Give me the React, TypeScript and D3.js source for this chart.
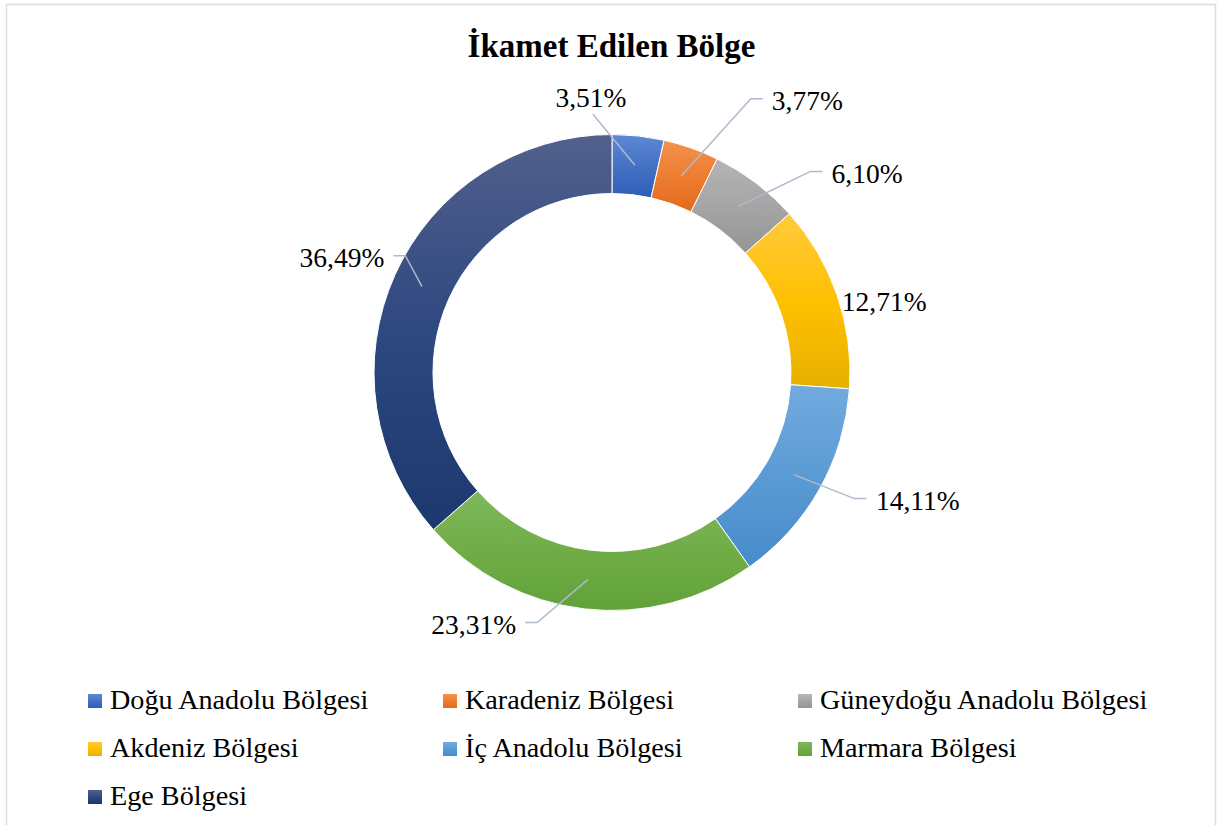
import React from "react";
import * as d3 from "d3";

const regions = [
  "Doğu Anadolu Bölgesi",
  "Karadeniz Bölgesi",
  "Güneydoğu Anadolu Bölgesi",
  "Akdeniz Bölgesi",
  "İç Anadolu Bölgesi",
  "Marmara Bölgesi",
  "Ege Bölgesi",
];
const shares = [3.51, 3.77, 6.1, 12.71, 14.11, 23.31, 36.49];
const labelTexts = ["3,51%", "3,77%", "6,10%", "12,71%", "14,11%", "23,31%", "36,49%"];

// gradient colours per slice: [top, middle, bottom]
const gradients = [
  ["#5E88D4", "#4472C4", "#2E5DB8"],
  ["#F2914F", "#ED7D31", "#E46A1C"],
  ["#B5B5B5", "#A5A5A5", "#959595"],
  ["#FFCB3D", "#FFC000", "#E6B000"],
  ["#72AADF", "#5B9BD5", "#478BCB"],
  ["#80B85D", "#70AD47", "#62A23A"],
  ["#52608C", "#2E4880", "#1B386F"],
];

// label placement relative to slice centroid (dx, dy) and leader style
const labelLayout = [
  { dx: -44, dy: -68, side: "bottom" },
  { dx: 126, dy: -75, side: "left" },
  { dx: 129, dy: -33, side: "left" },
  { dx: 75, dy: -3, side: "none" },
  { dx: 124, dy: 26, side: "left" },
  { dx: -114, dy: 45, side: "right" },
  { dx: -80, dy: -29, side: "right" },
];

const W = 1217;
const H = 825;
const cx = 612;
const cy = 372.5;
const outerR = 238;
const innerR = 179;
const FONT = "Liberation Serif, Times New Roman, DejaVu Serif, serif";
const fontStyle = { fontFamily: FONT };

export default function App() {
  const pie = d3.pie<number>().sort(null).value((d) => d);
  const arcs = pie(shares);
  const arcGen = d3.arc<d3.PieArcDatum<number>>().innerRadius(innerR).outerRadius(outerR);
  const textW = (s: string) => {
    const widths: Record<string, number> = { ",": 0.25, "%": 0.833 };
    let w = 0;
    for (const ch of s) w += widths[ch] ?? 0.5;
    return w * 27.5;
  };

  const legendCols = [88, 443, 798];
  const legendRows = [709, 757, 805];

  return (
    <svg
      width={W}
      height={H}
      style={{ position: "absolute", left: 0, top: 0, background: "#fff", fontFamily: FONT }}
    >
      <defs>
        {gradients.map((g, i) => (
          <linearGradient key={i} id={`g${i}`} x1="0" y1="0" x2="0" y2="1">
            <stop offset="0" stopColor={g[0]} />
            <stop offset="0.5" stopColor={g[1]} />
            <stop offset="1" stopColor={g[2]} />
          </linearGradient>
        ))}
      </defs>
      <rect x={6.5} y={4.5} width={1209} height={H} fill="#fff" stroke="#D9DEE4" strokeWidth={1.5} />
      <text x={611.5} y={57} textAnchor="middle" fontSize={33} fontWeight="bold" fill="#000" style={fontStyle}>
        İkamet Edilen Bölge
      </text>
      <g transform={`translate(${cx},${cy})`}>
        {arcs.map((a, i) => (
          <path key={i} d={arcGen(a) || ""} fill={`url(#g${i})`} stroke="#fff" strokeWidth={1} />
        ))}
      </g>
      {arcs.map((a, i) => {
        const [mx, my] = arcGen.centroid(a);
        const px = cx + mx;
        const py = cy + my;
        const L = labelLayout[i];
        const lx = px + L.dx;
        const ly = py + L.dy;
        const tw = textW(labelTexts[i]);
        let pts: [number, number][] | null = null;
        if (L.side === "left") {
          const ex = lx - tw / 2 - 9;
          pts = [[px, py], [ex - 12, ly - 2], [ex, ly - 2]];
        } else if (L.side === "right") {
          const ex = lx + tw / 2 + 9;
          pts = [[px, py], [ex + 12, ly - 2], [ex, ly - 2]];
        } else if (L.side === "bottom") {
          pts = [[px, py], [lx + 2, ly + 17]];
        }
        return (
          <g key={i}>
            {pts && (
              <polyline
                points={pts.map((p) => p.join(",")).join(" ")}
                fill="none"
                stroke="#AEBACB"
                strokeWidth={1.5}
              />
            )}
            <text x={lx} y={ly} dy="0.35em" textAnchor="middle" fontSize={27.5} fill="#000" style={fontStyle}>
              {labelTexts[i]}
            </text>
          </g>
        );
      })}
      {regions.map((r, i) => {
        const col = i % 3;
        const row = Math.floor(i / 3);
        const x = legendCols[col];
        const y = legendRows[row];
        return (
          <g key={r}>
            <rect x={x} y={y - 15} width={14} height={14} fill={`url(#g${i})`} />
            <text x={x + 22} y={y} fontSize={28.2} fill="#000" style={fontStyle}>
              {r}
            </text>
          </g>
        );
      })}
    </svg>
  );
}
